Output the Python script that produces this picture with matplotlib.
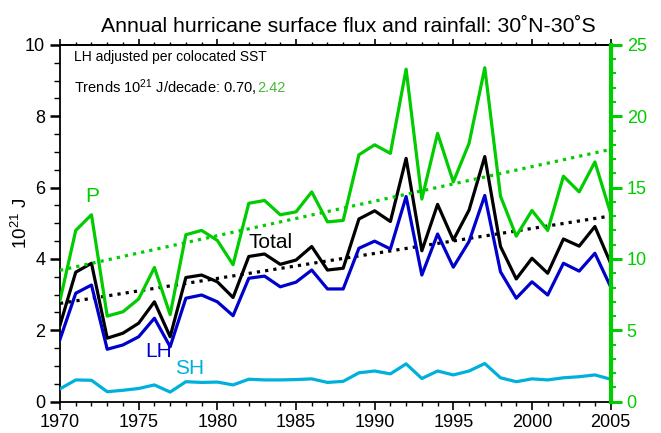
import matplotlib
matplotlib.use('Agg')
import matplotlib.pyplot as plt
import numpy as np
from matplotlib.ticker import MultipleLocator, NullFormatter

plt.rcParams['font.family'] = ['Liberation Sans', 'DejaVu Sans']
plt.rcParams['mathtext.default'] = 'regular'

# annual values, 10^21 J
years = np.arange(1970, 2006)
total = [2.15, 3.63, 3.88, 1.78, 1.92, 2.20, 2.80, 1.82, 3.48, 3.55, 3.36, 2.92,
         4.07, 4.14, 3.85, 3.97, 4.35, 3.69, 3.74, 5.12, 5.35, 5.05, 6.82, 4.23,
         5.53, 4.53, 5.37, 6.87, 4.35, 3.44, 4.02, 3.60, 4.56, 4.36, 4.91, 3.88]
lh = [1.75, 3.04, 3.27, 1.47, 1.59, 1.82, 2.34, 1.54, 2.90, 2.99, 2.80, 2.41,
      3.46, 3.52, 3.22, 3.35, 3.69, 3.16, 3.16, 4.30, 4.50, 4.28, 5.75, 3.55,
      4.70, 3.77, 4.49, 5.78, 3.64, 2.90, 3.36, 2.99, 3.88, 3.66, 4.16, 3.22]
sh = [0.36, 0.61, 0.60, 0.28, 0.32, 0.37, 0.47, 0.27, 0.56, 0.54, 0.55, 0.47,
      0.63, 0.61, 0.61, 0.62, 0.64, 0.54, 0.57, 0.81, 0.86, 0.78, 1.06, 0.65,
      0.86, 0.75, 0.86, 1.07, 0.67, 0.56, 0.64, 0.61, 0.67, 0.70, 0.75, 0.63]
# rainfall on the right-hand scale
rain = [7.1, 12.0, 13.1, 6.0, 6.3, 7.2, 9.4, 6.1, 11.7, 12.0, 11.3, 9.6,
        13.9, 14.1, 13.1, 13.3, 14.7, 12.6, 12.7, 17.3, 18.0, 17.4, 23.3, 14.2,
        18.8, 15.4, 18.1, 23.4, 14.4, 11.6, 13.4, 12.0, 15.8, 14.7, 16.8, 13.2]

# trends per decade
trend_total = 0.70
trend_rain = 2.42

GREEN = '#00cc00'
BLUE = '#0000cc'
CYAN = '#00b0dc'

def trend_line(x, y, per_decade):
    # least-squares intercept for a fixed slope
    slope = per_decade / 10.0
    y = np.asarray(y)
    b = y.mean() - slope * x.mean()
    return slope * x + b

fig = plt.figure(figsize=(6.61, 4.33), dpi=100)
ax = fig.add_axes([0.0908, 0.0723, 0.833, 0.824])
ax2 = ax.twinx()

ax.plot(years, total, color='black', lw=2.3, zorder=4)
ax.plot(years, lh, color=BLUE, lw=2.3, zorder=4)
ax.plot(years, sh, color=CYAN, lw=2.3, zorder=4)
ax.plot(years, trend_line(years, total, trend_total), color='black',
        lw=2.3, ls=(0, (1, 1.6)), zorder=3)

ax2.plot(years, rain, color=GREEN, lw=2.3, zorder=4)
ax2.plot(years, trend_line(years, rain, trend_rain), color=GREEN,
         lw=2.3, ls=(0, (1, 1.6)), zorder=3)

ax.set_xlim(1970, 2005)
ax.set_ylim(0, 10)
ax2.set_ylim(0, 25)

# bottom axis
ax.xaxis.set_major_locator(MultipleLocator(5))
ax.xaxis.set_minor_locator(MultipleLocator(1))
ax.tick_params(axis='x', which='major', direction='out', length=5.8, width=1.2,
               labelsize=13, pad=3)
ax.tick_params(axis='x', which='minor', direction='out', length=3, width=1)

# top axis: ticks only
top = ax.secondary_xaxis('top')
top.xaxis.set_major_locator(MultipleLocator(5))
top.xaxis.set_minor_locator(MultipleLocator(1))
top.xaxis.set_major_formatter(NullFormatter())
top.tick_params(axis='x', which='major', direction='out', length=4, width=1.2)
top.tick_params(axis='x', which='minor', direction='out', length=2.5, width=1)
top.spines['top'].set_linewidth(1.3)

# left axis
ax.yaxis.set_major_locator(MultipleLocator(2))
ax.yaxis.set_minor_locator(MultipleLocator(0.5))
ax.tick_params(axis='y', which='major', direction='out', length=7.2, width=1.8,
               labelsize=13, pad=3.5)
ax.tick_params(axis='y', which='minor', direction='out', length=4.3, width=1)
ax.set_ylabel('10$^{21}$ J', fontsize=13.5)
ax.yaxis.set_label_coords(-0.053, 0.5)
for s in ['left', 'bottom', 'top']:
    ax.spines[s].set_linewidth(1.3)
ax.spines['right'].set_visible(False)

# right (rainfall) axis in green
ax2.spines['right'].set_color(GREEN)
ax2.spines['right'].set_linewidth(3)
for s in ['left', 'bottom', 'top']:
    ax2.spines[s].set_visible(False)
ax2.yaxis.set_major_locator(MultipleLocator(5))
ax2.yaxis.set_minor_locator(MultipleLocator(1))
ax2.tick_params(axis='y', which='major', direction='out', length=8, width=2.2,
                color=GREEN, labelcolor=GREEN, labelsize=13, pad=3.6)
ax2.tick_params(axis='y', which='minor', direction='out', length=3.5, width=1.5,
                color=GREEN)

fig.text(0.527, 0.938, 'Annual hurricane surface flux and rainfall: 30˚N-30˚S',
         ha='center', va='center', fontsize=15.3)

ax.text(0.025, 0.966, 'LH adjusted per colocated SST', transform=ax.transAxes,
        fontsize=10, va='center')
t1 = ax.text(0.025, 0.88, 'Trends 10$^{21}$ J/decade: %.2f, ' % trend_total,
             transform=ax.transAxes, fontsize=10.5, va='center')
fig.canvas.draw()
bb = t1.get_window_extent().transformed(ax.transAxes.inverted())
ax.text(bb.x1, 0.88, '%.2f' % trend_rain, transform=ax.transAxes,
        fontsize=10.5, va='center', color='#44bb33')

ax.text(1971.6, 5.6, 'P', color=GREEN, fontsize=15)
ax.text(1982.0, 4.3, 'Total', color='black', fontsize=15)
ax.text(1975.4, 1.25, 'LH', color=BLUE, fontsize=15)
ax.text(1977.3, 0.78, 'SH', color=CYAN, fontsize=15)

fig.savefig('out.png', dpi=100)
